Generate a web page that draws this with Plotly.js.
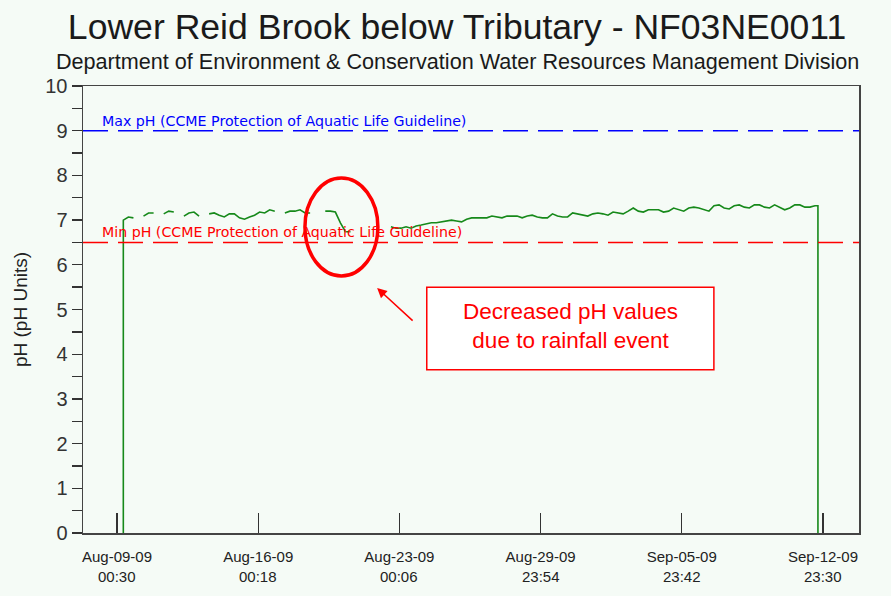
<!DOCTYPE html>
<html>
<head>
<meta charset="utf-8">
<script src="https://cdn.plot.ly/plotly-3.0.1.min.js"></script>
<style>
  html, body { margin: 0; padding: 0; background: #f5fbf6; }
  #chart { width: 891px; height: 596px; }
</style>
</head>
<body>
<div id="chart"></div>
<script>
// ---- Data ----
const chartTitle = 'Lower Reid Brook below Tributary - NF03NE0011';
const chartSubtitle = 'Department of Environment &amp; Conservation Water Resources Management Division';
const yAxisTitle = 'pH (pH Units)';

// 6-hourly pH readings starting at seriesStart (null = missing data)
const seriesStart = '2009-08-09T08:00:00Z';
const stepHours = 6;
const phValues = [
  7.00, 7.07, 7.05, null, 7.09, 7.16, 7.16, null, 7.14, 7.20,
  7.18, null, 7.09, 7.16, 7.18, 7.09, null, 7.14, 7.16, 7.11,
  7.07, 7.14, 7.14, 7.05, 7.02, 7.07, 7.11, 7.18, 7.16, 7.23,
  7.20, null, 7.16, 7.20, 7.20, 7.23, 7.16, 7.16, null, null,
  7.20, 7.20, 7.18, 6.94, 6.74, 6.74, null, null, null, null,
  null, null, null, 6.85, 6.82, 6.82, 6.85, 6.82, 6.87, 6.89,
  6.91, 6.94, 6.94, 6.96, 6.98, 7.00, 6.98, 6.96, 7.02, 7.05,
  7.05, 7.05, 7.05, 7.09, 7.07, 7.05, 7.09, 7.09, 7.09, 7.05,
  7.09, 7.11, 7.07, 7.05, 7.05, 7.14, 7.09, 7.07, 7.07, 7.16,
  7.14, 7.11, 7.09, 7.14, 7.16, 7.14, 7.11, 7.18, 7.16, 7.14,
  7.20, 7.27, 7.20, 7.18, 7.23, 7.23, 7.23, 7.18, 7.20, 7.27,
  7.23, 7.20, 7.27, 7.29, 7.27, 7.23, 7.20, 7.32, 7.34, 7.27,
  7.25, 7.32, 7.34, 7.29, 7.27, 7.34, 7.34, 7.29, 7.27, 7.34,
  7.29, 7.23, 7.27, 7.34, 7.34, 7.29, 7.29, 7.32
];
// logger deployment / removal (reading drops to 0)
const deployTime = '2009-08-09 08:00';
const removeTime = '2009-09-12 17:30';
const lastValue = 7.32;

const tickDates = ['2009-08-09 00:30', '2009-08-16 00:18', '2009-08-23 00:06',
                   '2009-08-29 23:54', '2009-09-05 23:42', '2009-09-12 23:30'];
const tickDateLabels = ['Aug-09-09', 'Aug-16-09', 'Aug-23-09', 'Aug-29-09', 'Sep-05-09', 'Sep-12-09'];
const tickTimeLabels = ['00:30', '00:18', '00:06', '23:54', '23:42', '23:30'];
const xRange = ['2009-08-07 08:05', '2009-09-14 18:18'];
const yRange = [0, 10];

const guideValues = [9, 6.5];
const guideLabels = ['Max pH (CCME Protection of Aquatic Life Guideline)',
                     'Min pH (CCME Protection of Aquatic Life Guideline)'];
const guideColors = ['#0000ff', '#ff0000'];

const noteText = 'Decreased pH values<br>due to rainfall event';

// ---- Build series ----
function fmt(d) {
  return d.toISOString().slice(0, 16).replace('T', ' ');
}
const t0 = new Date(seriesStart).getTime();
const xs = [deployTime];
const ys = [0];
phValues.forEach((v, i) => {
  xs.push(fmt(new Date(t0 + i * stepHours * 3600 * 1000)));
  ys.push(v);
});
xs.push(removeTime); ys.push(lastValue);
xs.push(removeTime); ys.push(0);

const font = 'Liberation Sans, Arial, sans-serif';
const bg = '#f5fbf6';

const traces = [{
  type: 'scatter', mode: 'lines', x: xs, y: ys,
  line: {color: '#16891a', width: 1.6},
  connectgaps: false, hoverinfo: 'x+y', showlegend: false
}];

const shapes = guideValues.map((v, i) => ({
  type: 'line', xref: 'paper', x0: 0, x1: 1, yref: 'y', y0: v, y1: v,
  line: {color: guideColors[i], width: 1.5, dash: '25px,10px'}
}));
shapes.push({
  type: 'circle', xref: 'paper', yref: 'paper',
  x0: 0.286, x1: 0.380, y0: 0.575, y1: 0.794,
  line: {color: '#ff0000', width: 3.5}
});
shapes.push({
  type: 'rect', xref: 'paper', yref: 'paper',
  x0: 0.443, x1: 0.813, y0: 0.365, y1: 0.550,
  line: {color: '#ff0000', width: 1.5}, fillcolor: '#ffffff', layer: 'above'
});

const annotations = guideValues.map((v, i) => ({
  xref: 'paper', x: 0.0215, xanchor: 'left', yref: 'y', y: v, yanchor: 'bottom', yshift: 0,
  text: guideLabels[i], showarrow: false,
  font: {family: 'DejaVu Sans, Verdana, sans-serif', size: 14.2, color: guideColors[i]}
}));
annotations.push({
  xref: 'paper', yref: 'paper', x: 0.482, y: 1.054, xanchor: 'center', yanchor: 'middle',
  text: chartSubtitle, showarrow: false, font: {family: font, size: 21.6, color: '#1a1a1a'}
});
annotations.push({
  xref: 'paper', yref: 'paper', x: 0.628, y: 0.462, xanchor: 'center', yanchor: 'middle',
  text: noteText, showarrow: false, font: {family: font, size: 22.5, color: '#ff0000'}
});
annotations.push({
  xref: 'paper', yref: 'paper', x: 0.379, y: 0.548, text: '',
  showarrow: true, ax: 37, ay: 34, arrowhead: 2, arrowsize: 1.3, arrowwidth: 1.5,
  arrowcolor: '#ff0000'
});
// second line of the date tick labels (time of day)
tickDates.forEach((d, i) => {
  annotations.push({
    xref: 'x', x: d, yref: 'paper', y: -0.0984, xanchor: 'center', yanchor: 'middle',
    text: tickTimeLabels[i], showarrow: false, font: {family: font, size: 15, color: '#222'}
  });
});

const layout = {
  width: 891, height: 596,
  margin: {l: 83, r: 32, t: 86, b: 63},
  paper_bgcolor: bg, plot_bgcolor: bg,
  font: {family: font, color: '#222'},
  title: {
    text: chartTitle, font: {family: font, size: 35.6, color: '#1a1a1a'},
    x: 0.513, xanchor: 'center', xref: 'container',
    y: 0.955, yanchor: 'middle', yref: 'container'
  },
  xaxis: {
    type: 'date', range: xRange,
    tickmode: 'array', tickvals: tickDates, ticktext: tickDateLabels,
    ticks: 'inside', ticklen: 20, tickwidth: 1.3, tickcolor: '#333',
    ticklabelstandoff: 9,
    tickfont: {family: font, size: 15, color: '#222'},
    showline: true, linecolor: '#444', linewidth: 1.5, mirror: true,
    showgrid: false, zeroline: false
  },
  yaxis: {
    range: yRange, dtick: 1, tick0: 0,
    ticks: 'outside', ticklen: 10, tickwidth: 1.3, tickcolor: '#333',
    minor: {dtick: 0.5, ticks: 'outside', ticklen: 10, tickwidth: 1.3, tickcolor: '#333', showgrid: false},
    tickfont: {family: font, size: 20, color: '#333'},
    title: {text: yAxisTitle, font: {family: font, size: 19, color: '#222'}, standoff: 12},
    showline: true, linecolor: '#444', linewidth: 1.5, mirror: true,
    showgrid: false, zeroline: false
  },
  shapes: shapes,
  annotations: annotations
};

Plotly.newPlot('chart', traces, layout, {displayModeBar: false, staticPlot: true});
</script>
</body>
</html>
